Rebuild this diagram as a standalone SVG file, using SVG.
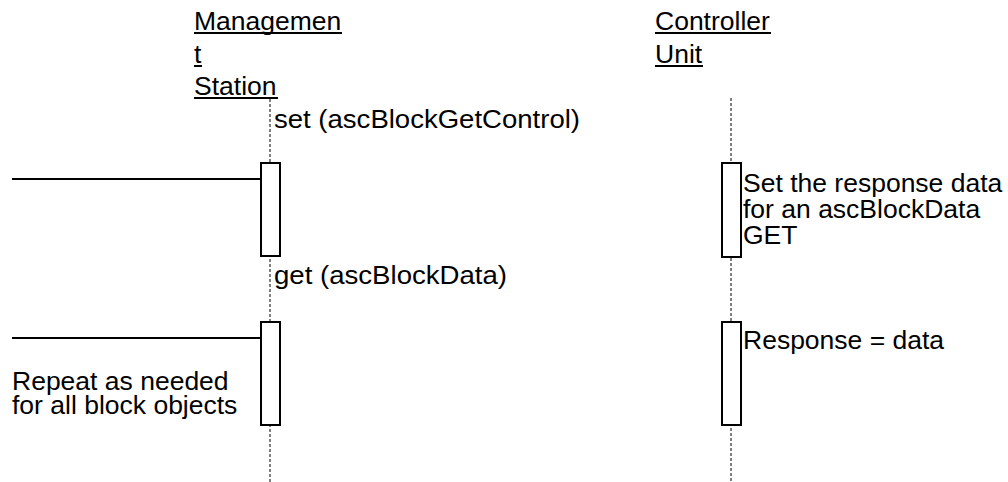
<svg xmlns="http://www.w3.org/2000/svg" width="1008" height="482" viewBox="0 0 1008 482">
  <style>
    text { font-family: "Liberation Sans", Arial, sans-serif; font-size: 26.5px; fill: #000; }
    .life { stroke: #000; stroke-width: 1; stroke-dasharray: 3 2; fill: none; }
    .act { fill: #fff; stroke: #000; stroke-width: 2; }
    .msg { stroke: #000; stroke-width: 2; fill: none; }
    .ul { stroke: #000; stroke-width: 2; }
  </style>

  <!-- lifelines and message lines -->
  <g id="connectors">
    <line class="life" x1="270" y1="99" x2="270" y2="482"/>
    <line class="life" x1="731" y1="98" x2="731" y2="482"/>
    <line class="msg" x1="12" y1="179" x2="261" y2="179"/>
    <line class="msg" x1="12" y1="338" x2="261" y2="338"/>
  </g>

  <g id="management-station">
    <text x="194" y="30">Managemen</text>
    <line class="ul" x1="194" y1="33" x2="342" y2="33"/>
    <text x="194" y="63">t</text>
    <line class="ul" x1="194" y1="66" x2="202" y2="66"/>
    <text x="194" y="95">Station</text>
    <line class="ul" x1="194" y1="98" x2="278" y2="98"/>
  </g>

  <g id="controller-unit">
    <text x="655" y="30">Controller</text>
    <line class="ul" x1="655" y1="33" x2="771" y2="33"/>
    <text x="655" y="63">Unit</text>
    <line class="ul" x1="655" y1="66" x2="703" y2="66"/>
  </g>

  <g id="ms-activation-1">
    <rect class="act" x="261" y="163" width="19" height="93"/>
  </g>
  <g id="ms-activation-2">
    <rect class="act" x="261" y="322" width="19" height="103"/>
  </g>
  <g id="cu-activation-1">
    <rect class="act" x="722" y="163" width="19" height="94"/>
  </g>
  <g id="cu-activation-2">
    <rect class="act" x="722" y="322" width="19" height="103"/>
  </g>

  <g id="labels">
    <text x="274" y="128" textLength="306" lengthAdjust="spacingAndGlyphs">set (ascBlockGetControl)</text>
    <text x="274" y="284" textLength="233" lengthAdjust="spacingAndGlyphs">get (ascBlockData)</text>
    <text x="743" y="192">Set the response data</text>
    <text x="743" y="218">for an ascBlockData</text>
    <text x="743" y="244">GET</text>
    <text x="743" y="349">Response = data</text>
    <text x="12" y="390">Repeat as needed</text>
    <text x="12" y="414">for all block objects</text>
  </g>
</svg>
